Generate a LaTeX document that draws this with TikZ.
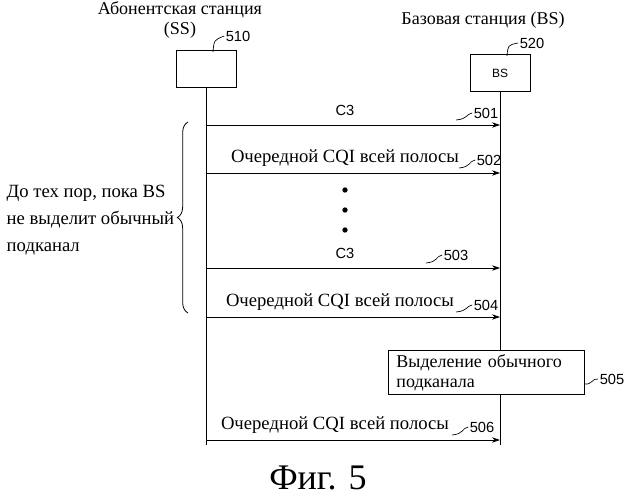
\documentclass[tikz,border=0pt]{standalone}
\usepackage{fontspec}
\setmainfont{Liberation Serif}
\newfontfamily\sansf{Liberation Sans}
\usetikzlibrary{arrows.meta,decorations.pathreplacing}
\begin{document}
\begin{tikzpicture}[x=0.75pt,y=-0.75pt,
  msg/.style={-{Stealth[length=6pt,width=4pt]},line width=0.6pt},
  lbl/.style={font=\fontsize{13.5}{15}\selectfont},
  mlbl/.style={font=\fontsize{14}{16}\selectfont},
  num/.style={font=\sansf\fontsize{11}{12}\selectfont,inner sep=1pt},
  lead/.style={line width=0.5pt}]
\useasboundingbox (0,0) rectangle (638,499);
% headers
\node[lbl,align=center] (sst) at (180,20) {Абонентская станция\\(SS)};
\node[lbl] (bst) at (483,20) {Базовая станция (BS)};
\node[draw,minimum width=45pt,minimum height=28pt,line width=0.6pt] (ss) at (206,69) {};
\node[draw,minimum width=45pt,minimum height=28pt,line width=0.6pt,font=\sansf\small] (bs) at (500,73) {BS};
\node[num] (n510) at (238,36) {510};
\node[num] (n520) at (532,43) {520};
\draw[lead] (213,52) .. controls (214,40) .. (n510.west);
\draw[lead] (507,56) .. controls (508,45) .. (n520.west);
\coordinate (ssb) at (206,445); \coordinate (bsb) at (500,445);
\draw[line width=0.6pt] (ss.south) -- (ssb);
\draw[line width=0.6pt] (bs.south) -- (bsb);
% messages
\foreach \y/\t/\lx/\n/\nx/\ny in {125/{\sansf\fontsize{11}{12}\selectfont C3}/345/501/486/113, 173/Очередной CQI всей полосы/345/502/489/160, 268/{\sansf\fontsize{11}{12}\selectfont C3}/345/503/456/255, 317/Очередной CQI всей полосы/340/504/486/305, 440/Очередной CQI всей полосы/335/506/482/427}{
  \coordinate (a) at (206,\y); \coordinate (b) at (500,\y);
  \draw[msg] (a) -- (b);
  \node[mlbl] at (\lx,\y-15) {\t};
  \node[num] (nn) at (\nx,\ny) {\n};
  \draw[lead] (nn.west) .. controls (\nx-20,\ny+1) and (\nx-18,\y-6) .. (\nx-30,\y-5);
}
\foreach \y in {190,210,230} \fill (345,\y) circle (2pt);
% brace
\draw[decorate,decoration={brace,amplitude=8pt},line width=0.6pt] (188,313) -- (188,122);
\node[lbl,align=left,anchor=west,font=\fontsize{14}{20}\selectfont] (cond) at (2,220) {До тех пор, пока BS\\не выделит обычный\\подканал};
% allocation box
\node[draw,fill=white,line width=0.6pt,align=left,anchor=north west,lbl,text width=135pt,minimum height=31pt,inner xsep=6pt,inner ysep=3pt] (alloc) at (388,350) {Выделение обычного\\подканала};
\node[num] (n505) at (612,379) {505};
\draw[lead] (alloc.east |- 0,384) .. controls (592,385) and (592,378) .. (n505.west);
\node[font=\fontsize{27}{30}\selectfont] (fig) at (318,478) {Фиг. 5};
\end{tikzpicture}
\end{document}
